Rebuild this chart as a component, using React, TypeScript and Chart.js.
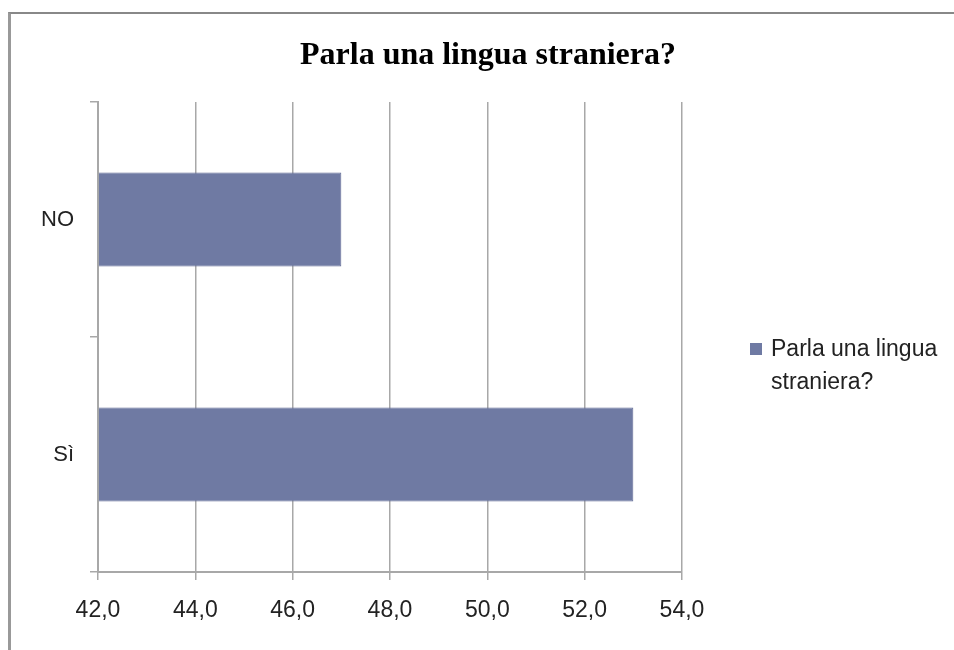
import React, { useEffect, useRef } from "react";
import { Chart, registerables } from "chart.js";

Chart.register(...registerables);

const TITLE = "Parla una lingua straniera?";
const SERIES_LABEL = "Parla una lingua straniera?";
const CATEGORIES = ["NO", "Sì"];
const VALUES = [47.0, 53.0];
const X_MIN = 42;
const X_MAX = 54;
const X_STEP = 2;

const BAR_COLOR = "#6f7aa3";
const AXIS_COLOR = "#a8a8a8";
const FONT = "'Liberation Sans', Arial, sans-serif";

const overlayPlugin = {
  id: "overlay",
  afterDraw(chart: any) {
    const ctx = chart.ctx;
    ctx.save();
    // title
    ctx.fillStyle = "#000";
    ctx.font = "bold 32px 'Liberation Serif', 'Times New Roman', serif";
    ctx.textAlign = "center";
    ctx.textBaseline = "alphabetic";
    ctx.fillText(TITLE, 488, 64);
    // legend
    const label = chart.data.datasets[0].label as string;
    const words = label.split(" ");
    const line1 = words.slice(0, 3).join(" ");
    const line2 = words.slice(3).join(" ");
    ctx.fillStyle = BAR_COLOR;
    ctx.fillRect(750, 343, 12, 12);
    ctx.fillStyle = "#222";
    ctx.font = "23px " + FONT;
    ctx.textAlign = "left";
    ctx.textBaseline = "middle";
    ctx.fillText(line1, 771, 350);
    ctx.fillText(line2, 771, 383);
    ctx.restore();
  },
};

export default function App() {
  const ref = useRef<HTMLCanvasElement>(null);
  useEffect(() => {
    document.body.style.margin = "0";
    const chart = new Chart(ref.current!, {
      type: "bar",
      data: {
        labels: CATEGORIES,
        datasets: [
          {
            label: SERIES_LABEL,
            data: VALUES,
            backgroundColor: BAR_COLOR,
            borderColor: "#5f6a95",
            borderWidth: 1,
            categoryPercentage: 0.4,
            barPercentage: 1,
            base: X_MIN,
          },
        ],
      },
      options: {
        indexAxis: "y",
        animation: false,
        responsive: false,
        maintainAspectRatio: false,
        layout: { padding: { top: 102, right: 272, left: 0, bottom: 0 } },
        plugins: {
          legend: { display: false },
          title: { display: false },
          tooltip: { enabled: false },
        },
        scales: {
          x: {
            min: X_MIN,
            max: X_MAX,
            ticks: {
              stepSize: X_STEP,
              color: "#222",
              font: { size: 23, family: FONT },
              padding: 17,
              callback: (v: any) => Number(v).toFixed(1).replace(".", ","),
            },
            grid: {
              color: AXIS_COLOR,
              lineWidth: 1.5,
              tickLength: 8,
              drawOnChartArea: true,
            },
            border: { display: true, color: AXIS_COLOR, width: 2 },
            afterFit: (s: any) => {
              s.height = 78;
            },
          },
          y: {
            offset: true,
            ticks: {
              color: "#222",
              font: { size: 22, family: FONT },
              padding: 16,
            },
            grid: {
              offset: true,
              drawOnChartArea: false,
              tickLength: 8,
              color: AXIS_COLOR,
              lineWidth: 1.5,
            },
            border: { display: true, color: AXIS_COLOR, width: 2 },
            afterFit: (s: any) => {
              s.width = 98;
            },
          },
        },
      },
      plugins: [overlayPlugin],
    });
    return () => chart.destroy();
  }, []);
  return (
    <div style={{ position: "relative", width: 954, height: 650, overflow: "hidden", background: "#fff" }}>
      <div
        style={{
          position: "absolute",
          left: 8,
          top: 12,
          width: 1000,
          height: 700,
          borderLeft: "3px solid #999",
          borderTop: "2px solid #888",
        }}
      />
      <canvas ref={ref} width={954} height={650} style={{ position: "absolute", left: 0, top: 0 }} />
    </div>
  );
}
